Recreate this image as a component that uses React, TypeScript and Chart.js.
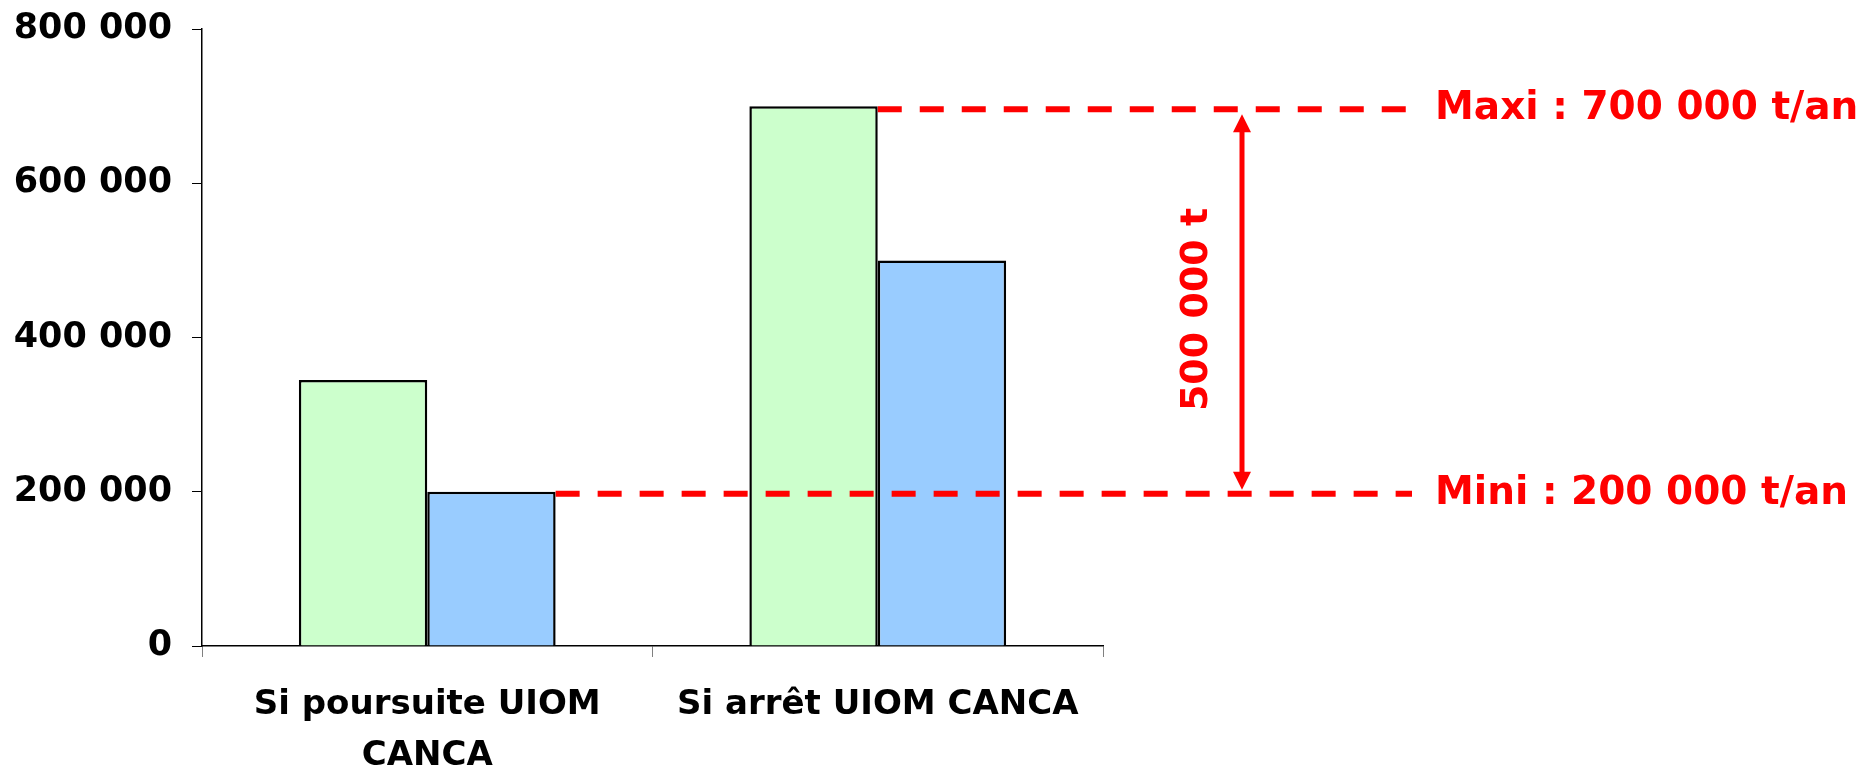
import React, { useEffect, useRef } from "react";
import { Chart, registerables } from "chart.js";

Chart.register(...registerables);

const categories: (string | string[])[] = [["Si poursuite UIOM", "CANCA"], "Si arrêt UIOM CANCA"];
const seriesGreen = [345000, 700000];
const seriesBlue = [200000, 500000];
const yTickValues = [0, 200000, 400000, 600000, 800000];
const maxiValue = 700000;
const miniValue = 200000;
const maxiLabel = "Maxi : 700 000 t/an";
const miniLabel = "Mini : 200 000 t/an";
const gapLabel = "500 000 t";

const FONT = "'DejaVu Sans', Verdana, sans-serif";

function fmt(v: number): string {
  return String(v).replace(/\B(?=(\d{3})+(?!\d))/g, " ");
}

const annotationPlugin = {
  id: "annotations",
  afterDatasetsDraw(chart: any) {
    const ctx = chart.ctx;
    const y = chart.scales.y;
    const area = chart.chartArea;
    const barTop = chart.getDatasetMeta(0).data[1];
    const barLow = chart.getDatasetMeta(1).data[0];
    const xTopStart = barTop.x + barTop.width / 2;
    const xLowStart = barLow.x + barLow.width / 2;
    const yMax = y.getPixelForValue(maxiValue) + 3;
    const yMin = y.getPixelForValue(miniValue) + 2;
    const lineEnd = area.right + 309;
    ctx.save();
    ctx.strokeStyle = "#ff0000";
    ctx.fillStyle = "#ff0000";
    ctx.lineWidth = 6;
    ctx.setLineDash([24, 18]);
    ctx.beginPath();
    ctx.moveTo(xTopStart, yMax);
    ctx.lineTo(lineEnd, yMax);
    ctx.moveTo(xLowStart, yMin);
    ctx.lineTo(lineEnd, yMin);
    ctx.stroke();
    ctx.setLineDash([]);

    // arrow
    const ax = area.right + 139;
    const tipTop = yMax + 5;
    const tipBot = yMin - 4;
    const headLen = 18;
    const headHalf = 9;
    ctx.lineWidth = 5;
    ctx.beginPath();
    ctx.moveTo(ax, tipTop + headLen - 2);
    ctx.lineTo(ax, tipBot - headLen + 2);
    ctx.stroke();
    ctx.beginPath();
    ctx.moveTo(ax, tipTop);
    ctx.lineTo(ax - headHalf, tipTop + headLen);
    ctx.lineTo(ax + headHalf, tipTop + headLen);
    ctx.closePath();
    ctx.fill();
    ctx.beginPath();
    ctx.moveTo(ax, tipBot);
    ctx.lineTo(ax - headHalf, tipBot - headLen);
    ctx.lineTo(ax + headHalf, tipBot - headLen);
    ctx.closePath();
    ctx.fill();

    // labels
    ctx.font = `bold 39px ${FONT}`;
    ctx.textAlign = "left";
    ctx.textBaseline = "middle";
    const tx = area.right + 332;
    ctx.fillText(maxiLabel, tx, yMax);
    ctx.fillText(miniLabel, tx, yMin);

    ctx.translate(ax - 45, (yMax + yMin) / 2 + 8);
    ctx.rotate(-Math.PI / 2);
    ctx.font = `bold 38px ${FONT}`;
    ctx.textAlign = "center";
    ctx.fillText(gapLabel, 0, 0);
    ctx.restore();
  },
};

export default function App() {
  const ref = useRef<HTMLCanvasElement | null>(null);
  useEffect(() => {
    document.body.style.margin = "0";
    const chart = new Chart(ref.current as HTMLCanvasElement, {
      type: "bar",
      data: {
        labels: categories as any,
        datasets: [
          {
            data: seriesGreen,
            backgroundColor: "#CCFFCC",
            borderColor: "#000000",
            borderWidth: 2.5,
          },
          {
            data: seriesBlue,
            backgroundColor: "#99CCFF",
            borderColor: "#000000",
            borderWidth: 2.5,
          },
        ],
      },
      options: {
        animation: false,
        responsive: true,
        maintainAspectRatio: false,
        layout: { padding: { top: 29, right: 763, bottom: 0, left: 0 } },
        datasets: { bar: { categoryPercentage: 0.57, barPercentage: 1.0 } } as any,
        plugins: { legend: { display: false }, tooltip: { enabled: false } },
        scales: {
          x: {
            grid: { display: true, offset: true, drawOnChartArea: false, tickLength: 11, color: "#808080" },
            border: { display: true, color: "#000000", width: 1.5 },
            ticks: {
              color: "#000000",
              font: { family: FONT, weight: "bold", size: 34, lineHeight: 1.5 },
              maxRotation: 0,
              autoSkip: false,
              padding: 23,
            },
            afterFit: (s: any) => {
              s.height = 121;
              s.paddingLeft = 0;
              s.paddingRight = 0;
            },
          },
          y: {
            min: 0,
            max: 800000,
            afterBuildTicks: (s: any) => {
              s.ticks = yTickValues.map((v) => ({ value: v }));
            },
            grid: { display: true, drawOnChartArea: false, tickLength: 10, color: "#000000" },
            border: { display: true, color: "#000000", width: 1.5 },
            ticks: {
              color: "#000000",
              font: { family: FONT, weight: "bold", size: 35 },
              padding: 20,
              callback: (v: any) => fmt(Number(v)),
            },
            afterFit: (s: any) => {
              s.width = 202;
              s.paddingTop = 0;
              s.paddingBottom = 0;
            },
          },
        },
      },
      plugins: [annotationPlugin],
    });
    return () => chart.destroy();
  }, []);
  return (
    <div style={{ position: "absolute", left: 0, top: 0, width: 1866, height: 767, background: "#fff" }}>
      <canvas ref={ref} />
    </div>
  );
}
